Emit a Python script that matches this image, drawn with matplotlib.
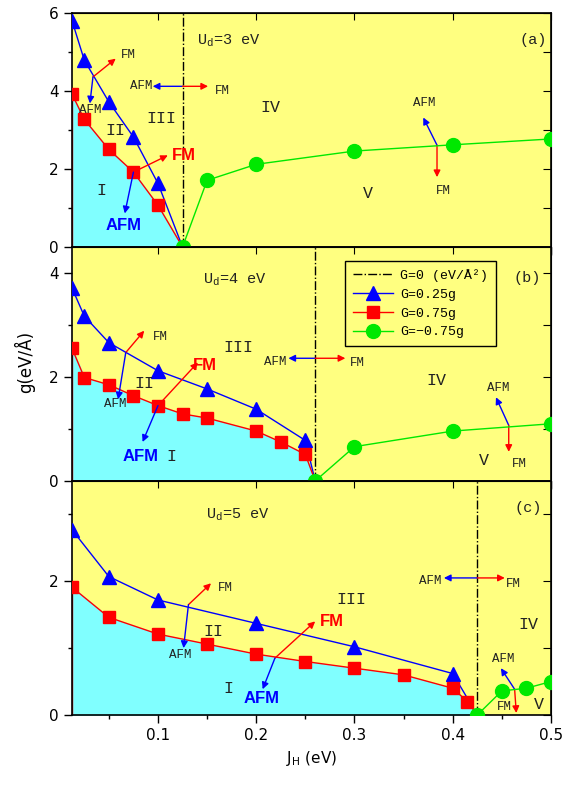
import matplotlib
matplotlib.use('Agg')
import matplotlib.pyplot as plt
from matplotlib.lines import Line2D
from matplotlib.ticker import MultipleLocator

# panel (a), Ud = 3 eV
a_x_tri = [0.0125, 0.025, 0.05, 0.075, 0.1, 0.125]
a_tri = [5.8, 4.79, 3.72, 2.82, 1.63, 0.0]
a_x_sq = [0.0125, 0.025, 0.05, 0.075, 0.1, 0.125]
a_sq = [3.92, 3.27, 2.5, 1.92, 1.07, 0.0]
a_x_circ = [0.125, 0.15, 0.2, 0.3, 0.4, 0.5]
a_circ = [0.0, 1.71, 2.12, 2.46, 2.62, 2.77]
a_g0 = 0.125

# panel (b), Ud = 4 eV
b_x_tri = [0.0125, 0.025, 0.05, 0.1, 0.15, 0.2, 0.25, 0.26]
b_tri = [3.71, 3.17, 2.66, 2.12, 1.77, 1.38, 0.78, 0.0]
b_x_sq = [0.0125, 0.025, 0.05, 0.075, 0.1, 0.125, 0.15, 0.2, 0.225, 0.25, 0.26]
b_sq = [2.55, 1.99, 1.85, 1.64, 1.45, 1.29, 1.21, 0.96, 0.75, 0.51, 0.0]
b_x_circ = [0.26, 0.3, 0.4, 0.5]
b_circ = [0.0, 0.66, 0.96, 1.10]
b_g0 = 0.26

# panel (c), Ud = 5 eV
c_x_tri = [0.0125, 0.05, 0.1, 0.2, 0.3, 0.4, 0.425]
c_tri = [2.77, 2.07, 1.72, 1.37, 1.02, 0.62, 0.0]
c_x_sq = [0.0125, 0.05, 0.1, 0.15, 0.2, 0.25, 0.3, 0.35, 0.4, 0.415, 0.425]
c_sq = [1.91, 1.46, 1.21, 1.06, 0.91, 0.80, 0.70, 0.60, 0.40, 0.20, 0.0]
c_x_circ = [0.425, 0.45, 0.475, 0.5]
c_circ = [0.0, 0.36, 0.40, 0.50]
c_g0 = 0.425

legend_labels = ['G=0 (eV/Å²)', 'G=0.25g', 'G=0.75g', 'G=\u22120.75g']

YELLOW = '#ffff80'
CYAN = '#80ffff'
GREEN = '#00e800'
MONO = 'Liberation Mono'
SANS = 'Liberation Sans'


def arrow(ax, start, end, color):
    ax.annotate('', xy=end, xytext=start,
                arrowprops=dict(arrowstyle='-|>', color=color, lw=1,
                                mutation_scale=10, shrinkA=0, shrinkB=0))


def label(ax, x, y, s, size=9, ha='center'):
    ax.text(x, y, s, family=MONO, fontsize=size, ha=ha, va='center',
            color='#222222')


def bold(ax, x, y, s, color):
    ax.text(x, y, s, family=SANS, fontweight='bold', fontsize=12,
            ha='center', va='center', color=color)


def panel(ax, xt, yt, xs, ys, xc, yc, g0, ymax):
    ax.set_facecolor(YELLOW)
    ax.fill_between(xs, 0, ys, color=CYAN, zorder=1)
    ax.plot([xs[0], xs[0]], [0, ys[0]], color='red', lw=1, zorder=2)
    ax.axvline(g0, color='black', ls='-.', lw=1, zorder=2)
    ax.plot(xt, yt, color='blue', lw=1, marker='^', ms=10,
            markevery=list(range(len(xt) - 1)), zorder=3)
    ax.plot(xs, ys, color='red', lw=1, marker='s', ms=8,
            markevery=list(range(len(xs) - 1)), zorder=3)
    ax.plot(xc, yc, color=GREEN, lw=1, marker='o', ms=10, zorder=4)
    ax.set_xlim(0.0125, 0.5)
    ax.set_ylim(0, ymax)
    ax.xaxis.set_major_locator(MultipleLocator(0.1))
    ax.xaxis.set_minor_locator(MultipleLocator(0.05))
    ax.yaxis.set_major_locator(MultipleLocator(2))
    ax.yaxis.set_minor_locator(MultipleLocator(1))
    ax.tick_params(which='both', direction='out', top=False, right=False,
                   labelsize=11, width=1)
    ax.tick_params(which='major', length=6)
    ax.tick_params(which='minor', length=3)
    ax.secondary_xaxis('top').tick_params(which='both', direction='in',
                                          labeltop=False, length=5)
    sy = ax.secondary_yaxis('right')
    sy.yaxis.set_major_locator(MultipleLocator(1))
    sy.tick_params(direction='in', labelright=False, length=6)
    for s in ax.spines.values():
        s.set_linewidth(1.2)


fig = plt.figure(figsize=(5.79, 7.87), dpi=100)
gs = fig.add_gridspec(3, 1, left=0.1244, right=0.9516, top=0.9835,
                      bottom=0.0915, hspace=0)
ax_a = fig.add_subplot(gs[0])
ax_b = fig.add_subplot(gs[1], sharex=ax_a)
ax_c = fig.add_subplot(gs[2], sharex=ax_a)

panel(ax_a, a_x_tri, a_tri, a_x_sq, a_sq, a_x_circ, a_circ, a_g0, 6)
panel(ax_b, b_x_tri, b_tri, b_x_sq, b_sq, b_x_circ, b_circ, b_g0, 4.5)
panel(ax_c, c_x_tri, c_tri, c_x_sq, c_sq, c_x_circ, c_circ, c_g0, 3.5)
for ax in (ax_a, ax_b):
    ax.tick_params(labelbottom=False)

# ---- panel (a) texts
ax = ax_a
label(ax, 0.14, 5.3, 'U$_\\mathregular{d}$=3 eV', size=11, ha='left')
label(ax, 0.482, 5.3, '(a)', size=11)
arrow(ax, (0.0338, 4.36), (0.057, 4.83), 'red')
arrow(ax, (0.0338, 4.36), (0.0307, 3.68), 'blue')
label(ax, 0.0703, 4.92, 'FM')
label(ax, 0.0314, 3.51, 'AFM')
arrow(ax, (a_g0, 4.12), (0.0946, 4.12), 'blue')
arrow(ax, (a_g0, 4.12), (0.151, 4.12), 'red')
label(ax, 0.0826, 4.12, 'AFM')
label(ax, 0.166, 4.0, 'FM')
label(ax, 0.103, 3.3, 'III', size=12)
label(ax, 0.2146, 3.58, 'IV', size=12)
label(ax, 0.057, 2.99, 'II', size=12)
label(ax, 0.0424, 1.45, 'I', size=12)
arrow(ax, (0.075, 1.92), (0.11, 2.35), 'red')
arrow(ax, (0.075, 1.92), (0.0662, 0.86), 'blue')
bold(ax, 0.1266, 2.35, 'FM', 'red')
bold(ax, 0.065, 0.56, 'AFM', 'blue')
arrow(ax, (0.384, 2.61), (0.37, 3.32), 'blue')
arrow(ax, (0.384, 2.61), (0.384, 1.79), 'red')
label(ax, 0.371, 3.68, 'AFM')
label(ax, 0.39, 1.44, 'FM')
label(ax, 0.314, 1.38, 'V', size=12)

# ---- panel (b) texts
ax = ax_b
label(ax, 0.146, 3.88, 'U$_\\mathregular{d}$=4 eV', size=11, ha='left')
label(ax, 0.4756, 3.91, '(b)', size=11)
arrow(ax, (0.0672, 2.47), (0.086, 2.89), 'red')
arrow(ax, (0.0672, 2.47), (0.0594, 1.57), 'blue')
label(ax, 0.1024, 2.76, 'FM')
label(ax, 0.057, 1.49, 'AFM')
label(ax, 0.086, 1.87, 'II', size=12)
label(ax, 0.1816, 2.57, 'III', size=12)
arrow(ax, (0.1, 1.45), (0.1406, 2.28), 'red')
arrow(ax, (0.1, 1.45), (0.0843, 0.75), 'blue')
bold(ax, 0.148, 2.22, 'FM', 'red')
bold(ax, 0.0826, 0.48, 'AFM', 'blue')
label(ax, 0.114, 0.48, 'I', size=12)
arrow(ax, (b_g0, 2.36), (0.2327, 2.36), 'blue')
arrow(ax, (b_g0, 2.36), (0.2907, 2.36), 'red')
label(ax, 0.219, 2.29, 'AFM')
label(ax, 0.303, 2.27, 'FM')
label(ax, 0.383, 1.93, 'IV', size=12)
arrow(ax, (0.457, 1.07), (0.444, 1.61), 'blue')
arrow(ax, (0.457, 1.07), (0.457, 0.56), 'red')
label(ax, 0.446, 1.78, 'AFM')
label(ax, 0.468, 0.32, 'FM')
label(ax, 0.432, 0.40, 'V', size=12)

handles = [Line2D([], [], color='black', ls='-.', lw=1),
           Line2D([], [], color='blue', lw=1, marker='^', ms=10),
           Line2D([], [], color='red', lw=1, marker='s', ms=8),
           Line2D([], [], color=GREEN, lw=1, marker='o', ms=10)]
leg = ax.legend(handles, legend_labels, loc='upper left', numpoints=1,
                bbox_to_anchor=(0.57, 0.94),
                prop={'family': MONO, 'size': 9.5},
                fancybox=False, framealpha=1, facecolor=YELLOW,
                edgecolor='black', handlelength=3.0, handletextpad=0.6,
                borderpad=0.6, labelspacing=0.5, borderaxespad=0)
leg.get_frame().set_linewidth(1)

# ---- panel (c) texts
ax = ax_c
label(ax, 0.149, 3.0, 'U$_\\mathregular{d}$=5 eV', size=11, ha='left')
label(ax, 0.4767, 3.1, '(c)', size=11)
arrow(ax, (0.131, 1.65), (0.154, 1.97), 'red')
arrow(ax, (0.131, 1.65), (0.126, 1.0), 'blue')
label(ax, 0.1686, 1.9, 'FM')
label(ax, 0.123, 0.9, 'AFM')
label(ax, 0.156, 1.25, 'II', size=12)
label(ax, 0.172, 0.4, 'I', size=12)
arrow(ax, (0.219, 0.85), (0.26, 1.4), 'red')
arrow(ax, (0.219, 0.85), (0.2065, 0.385), 'blue')
bold(ax, 0.277, 1.4, 'FM', 'red')
bold(ax, 0.2054, 0.25, 'AFM', 'blue')
label(ax, 0.297, 1.73, 'III', size=12)
arrow(ax, (c_g0, 2.05), (0.391, 2.05), 'blue')
arrow(ax, (c_g0, 2.05), (0.453, 2.05), 'red')
label(ax, 0.3767, 2.0, 'AFM')
label(ax, 0.462, 1.96, 'FM')
label(ax, 0.4767, 1.36, 'IV', size=12)
arrow(ax, (0.463, 0.385), (0.449, 0.70), 'blue')
arrow(ax, (0.463, 0.385), (0.4647, 0.03), 'red')
label(ax, 0.451, 0.84, 'AFM')
label(ax, 0.453, 0.115, 'FM')
label(ax, 0.488, 0.15, 'V', size=12)

ax_c.set_xlabel('J$_\\mathregular{H}$ (eV)', fontsize=11)
ax_c.xaxis.set_major_formatter(plt.FuncFormatter(lambda v, p: '%g' % v))
fig.text(0.043, 0.54, 'g(eV/Å)', rotation=90, fontsize=12,
         ha='center', va='center')

fig.savefig('out.png', dpi=100)
